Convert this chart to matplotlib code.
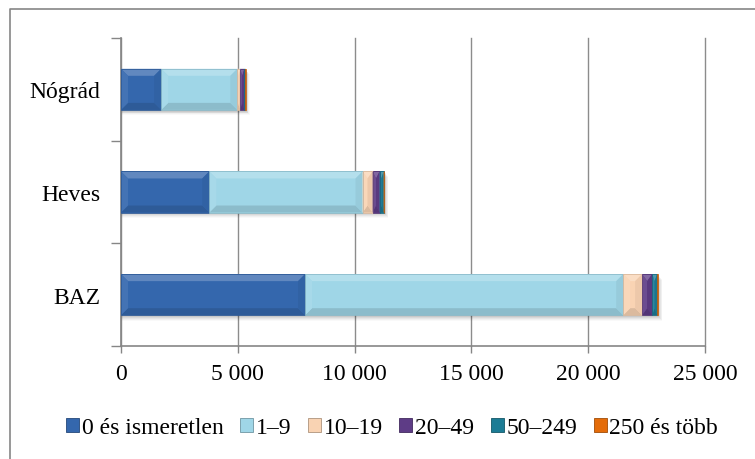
import numpy as np
import matplotlib
matplotlib.use("Agg")
import matplotlib.pyplot as plt
from matplotlib.patches import Polygon, Rectangle
from matplotlib.lines import Line2D
from matplotlib.colors import to_rgb

plt.rcParams['font.family'] = ['Liberation Serif', 'DejaVu Serif']

# Counties and enterprise counts by headcount band
counties = ["BAZ", "Heves", "Nógrád"]
band_labels = ["0 és ismeretlen", "1–9", "10–19", "20–49", "50–249", "250 és több"]
band_0 = [7880, 3780, 1720]
band_1_9 = [13620, 6560, 3260]
band_10_19 = [810, 430, 120]
band_20_49 = [430, 300, 180]
band_50_249 = [210, 170, 40]
band_250 = [40, 30, 10]
series = [band_0, band_1_9, band_10_19, band_20_49, band_50_249, band_250]
colors = ["#3467AD", "#9FD6E7", "#F9D3B3", "#5E3C86", "#1C7C95", "#E46C0A"]
xticks = [0, 5000, 10000, 15000, 20000, 25000]
xtick_labels = ["0", "5 000", "10 000", "15 000", "20 000", "25 000"]

W, H = 755, 460
FS = 17
fig = plt.figure(figsize=(W / 100, H / 100), dpi=100)
left, right, top, bottom = 121, 705, 39, 347
ax = fig.add_axes([left / W, 1 - bottom / H, (right - left) / W, (bottom - top) / H])
ax.set_xlim(0, 25000)
ax.set_ylim(-0.5, len(counties) - 0.5)

# px -> data scale factors
sx = 25000 / (right - left)
sy = len(counties) / (bottom - top)


def shade(c, f):
    r, g, b = to_rgb(c)
    if f >= 0:
        return (r + (1 - r) * f, g + (1 - g) * f, b + (1 - b) * f)
    return (r * (1 + f), g * (1 + f), b * (1 + f))


bar_h = 0.4
y = np.arange(len(counties))

# soft drop shadow under each full bar
totals = np.sum(series, axis=0)
for yi, tot in zip(y, totals):
    for k, a in zip(range(6, 0, -1), [0.025, 0.035, 0.045, 0.055, 0.065, 0.075]):
        ax.add_patch(Rectangle((0, yi - bar_h / 2 - k * sy * 0.9),
                               tot + k * sx * 0.7, bar_h, facecolor="black",
                               alpha=a, edgecolor="none", zorder=2))

# stacked bars with bevel shading
lefts = np.zeros(len(counties))
for vals, col in zip(series, colors):
    vals = np.asarray(vals, dtype=float)
    ax.barh(y, vals, left=lefts, height=bar_h, color=col, edgecolor="none", zorder=3)
    for yi, x0, w in zip(y, lefts, vals):
        x1 = x0 + w
        y0, y1 = yi - bar_h / 2, yi + bar_h / 2
        bx = min(7 * sx, w / 2)
        by = min(7 * sy, bar_h / 2)
        faces = [
            ([(x0, y1), (x1, y1), (x1 - bx, y1 - by), (x0 + bx, y1 - by)], 0.22),   # top
            ([(x0, y0), (x1, y0), (x1 - bx, y0 + by), (x0 + bx, y0 + by)], -0.12),  # bottom
            ([(x0, y0), (x0 + bx, y0 + by), (x0 + bx, y1 - by), (x0, y1)], 0.08),
            ([(x1, y0), (x1 - bx, y0 + by), (x1 - bx, y1 - by), (x1, y1)], -0.05),
        ]
        for pts, f in faces:
            ax.add_patch(Polygon(pts, closed=True, facecolor=shade(col, f),
                                 edgecolor="none", zorder=4))
        ax.add_patch(Rectangle((x0, y0), w, bar_h, facecolor="none",
                               edgecolor=shade(col, -0.12), linewidth=0.6, zorder=5))
    lefts = lefts + vals

ax.set_xticks(xticks)
ax.set_xticklabels(xtick_labels, fontsize=FS)
ax.set_yticks(y)
ax.set_yticklabels(counties, fontsize=FS)
ax.set_yticks(np.arange(-0.5, len(counties), 1.0), minor=True)
ax.tick_params(axis="y", which="major", length=0, pad=15)
ax.tick_params(axis="y", which="minor", length=7, color="#868686", width=1)
ax.tick_params(axis="x", length=5, color="#868686", width=1, pad=7)
ax.xaxis.grid(True, color="#8C8C8C", linewidth=1)
for gl in ax.get_xgridlines():
    gl.set_clip_on(False)
ax.set_axisbelow(True)
for s in ["top", "right"]:
    ax.spines[s].set_visible(False)
for s in ["left", "bottom"]:
    ax.spines[s].set_color("#868686")
    ax.spines[s].set_linewidth(1.2)

# legend
handles = [Rectangle((0, 0), 1, 1, facecolor=c, edgecolor=shade(c, -0.3), linewidth=0.6)
           for c in colors]
fig.legend(handles, band_labels, loc="center", bbox_to_anchor=(392 / W, 1 - 429 / H),
           ncol=6, frameon=False, fontsize=FS, handlelength=0.55, handleheight=0.55,
           handletextpad=0.12, columnspacing=0.7, borderaxespad=0, borderpad=0)

# outer chart border (top and left edges fall inside the image)
fig.add_artist(Line2D([10 / W, 10 / W, 1.0], [0.0, 1 - 10 / H, 1 - 10 / H],
                      transform=fig.transFigure, color="#868686", linewidth=1.2))

fig.savefig("out.png", dpi=100)
